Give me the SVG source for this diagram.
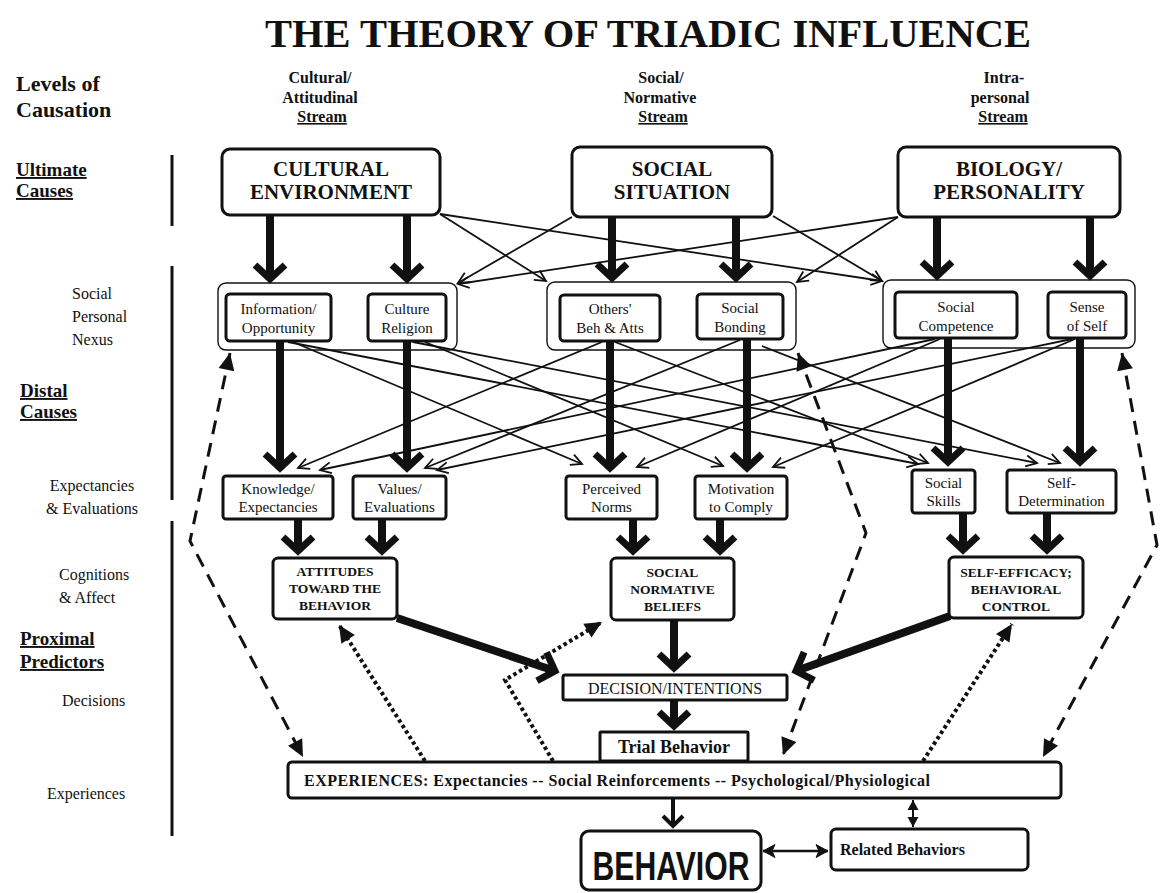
<svg xmlns="http://www.w3.org/2000/svg" width="1160" height="893" viewBox="0 0 1160 893">
<style>
text{font-family:"Liberation Serif","Times New Roman",serif;fill:#111}
.title{font-size:40.5px;font-weight:bold}
.lvl{font-size:22px;font-weight:bold}
.sec{font-size:19px;font-weight:bold;text-decoration:underline}
.sub{font-size:16px}
.stream{font-size:16px;font-weight:bold;text-anchor:middle}
.big{font-size:21px;font-weight:bold;text-anchor:middle}
.mid{font-size:15px;text-anchor:middle}
.cap{font-size:13.5px;font-weight:bold;text-anchor:middle}
.b3{fill:#fff;stroke:#111;stroke-width:3}
.b1{fill:none;stroke:#111;stroke-width:1.4}
.thick{stroke:#111;stroke-width:8;fill:none;marker-end:url(#mThick)}
.thin{stroke:#111;stroke-width:1.8;fill:none;marker-end:url(#mThin)}
.dash{stroke:#111;stroke-width:3;fill:none;stroke-dasharray:14 9;marker-start:url(#mTri);marker-end:url(#mTri);stroke-linejoin:round}
.dot{stroke:#111;stroke-width:4;fill:none;stroke-dasharray:3.5 3;marker-end:url(#mTri)}
.bar{stroke:#111;stroke-width:3}
</style>
<defs>
<marker id="mThick" markerUnits="userSpaceOnUse" viewBox="-25 -25 40 50" refX="0" refY="0" markerWidth="40" markerHeight="50" orient="auto">
<path d="M-14,-15 L0,0 L-14,15" fill="none" stroke="#111" stroke-width="7" stroke-linejoin="miter"/>
</marker>
<marker id="mMed" markerUnits="userSpaceOnUse" viewBox="-20 -20 30 40" refX="0" refY="0" markerWidth="30" markerHeight="40" orient="auto">
<path d="M-10,-10 L0,0 L-10,10" fill="none" stroke="#111" stroke-width="4"/>
</marker>
<marker id="mThin" markerUnits="userSpaceOnUse" viewBox="-15 -10 20 20" refX="0" refY="0" markerWidth="20" markerHeight="20" orient="auto-start-reverse">
<path d="M-11,-5.5 L0,0 L-11,5.5" fill="none" stroke="#111" stroke-width="1.8"/>
</marker>
<marker id="mTri" markerUnits="userSpaceOnUse" viewBox="-20 -12 24 24" refX="0" refY="0" markerWidth="24" markerHeight="24" orient="auto-start-reverse">
<path d="M0,0 L-17,-8 L-17,8 Z" fill="#111"/>
</marker>
<marker id="mDbl" markerUnits="userSpaceOnUse" viewBox="-15 -10 20 20" refX="0" refY="0" markerWidth="20" markerHeight="20" orient="auto-start-reverse">
<path d="M0,0 L-12,-6.5 L-9,0 L-12,6.5 Z" fill="#111" stroke="#111" stroke-width="1"/>
</marker>
<marker id="mSm" markerUnits="userSpaceOnUse" viewBox="-12 -8 14 16" refX="0" refY="0" markerWidth="14" markerHeight="16" orient="auto-start-reverse">
<path d="M0,0 L-10,-5.5 L-10,5.5 Z" fill="#111"/>
</marker>
</defs>

<g id="title">
<text class="title" x="648" y="47" text-anchor="middle">THE THEORY OF TRIADIC INFLUENCE</text>
</g>

<g id="levels">
<text class="lvl" x="16" y="91">Levels of</text>
<text class="lvl" x="16" y="117">Causation</text>
<text class="sec" x="16" y="176">Ultimate</text>
<text class="sec" x="16" y="197">Causes</text>
<text class="sub" x="72" y="299">Social</text>
<text class="sub" x="72" y="322">Personal</text>
<text class="sub" x="72" y="345">Nexus</text>
<text class="sec" x="20" y="397">Distal </text>
<text class="sec" x="20" y="418">Causes</text>
<text class="sub" x="92" y="491" text-anchor="middle">Expectancies</text>
<text class="sub" x="92" y="514" text-anchor="middle">&amp; Evaluations</text>
<text class="sub" x="59" y="580">Cognitions</text>
<text class="sub" x="59" y="603">&amp; Affect</text>
<text class="sec" x="20" y="645">Proximal</text>
<text class="sec" x="20" y="668">Predictors</text>
<text class="sub" x="62" y="706">Decisions</text>
<text class="sub" x="47" y="799">Experiences</text>
<line class="bar" x1="172" y1="155" x2="172" y2="226"/>
<line class="bar" x1="172" y1="266" x2="172" y2="500"/>
<line class="bar" x1="172" y1="521" x2="172" y2="836"/>
</g>

<g id="streams">
<text class="stream" x="320" y="83">Cultural/</text>
<text class="stream" x="320" y="103">Attitudinal</text>
<text class="stream" x="322" y="122" text-decoration="underline">Stream</text>
<text class="stream" x="661" y="83">Social/</text>
<text class="stream" x="660" y="103">Normative</text>
<text class="stream" x="663" y="122" text-decoration="underline">Stream</text>
<text class="stream" x="1004" y="83">Intra-</text>
<text class="stream" x="1000" y="103">personal</text>
<text class="stream" x="1003" y="122" text-decoration="underline">Stream</text>
</g>

<g id="connectors">
<line class="thin" x1="440" y1="214" x2="546" y2="281"/>
<line class="thin" x1="440" y1="214" x2="882" y2="281"/>
<line class="thin" x1="572" y1="217" x2="458" y2="283"/>
<line class="thin" x1="773" y1="216" x2="882" y2="281"/>
<line class="thin" x1="898" y1="217" x2="458" y2="284"/>
<line class="thin" x1="898" y1="217" x2="797" y2="282"/>
<line class="thin" x1="293" y1="342" x2="582" y2="464"/>
<line class="thin" x1="288" y1="342" x2="918" y2="464"/>
<line class="thin" x1="425" y1="342" x2="723" y2="466"/>
<line class="thin" x1="413" y1="342" x2="1037" y2="463"/>
<line class="thin" x1="602" y1="342" x2="298" y2="468"/>
<line class="thin" x1="615" y1="342" x2="928" y2="463"/>
<line class="thin" x1="740" y1="340" x2="425" y2="468"/>
<line class="thin" x1="762" y1="346" x2="1060" y2="463"/>
<line class="thin" x1="935" y1="339" x2="320" y2="470"/>
<line class="thin" x1="940" y1="339" x2="637" y2="467"/>
<line class="thin" x1="1072" y1="339" x2="437" y2="470"/>
<line class="thin" x1="1075" y1="339" x2="773" y2="467"/>
<line class="thick" x1="270" y1="216" x2="270" y2="279"/>
<line class="thick" x1="407" y1="216" x2="407" y2="279"/>
<line class="thick" x1="612" y1="218" x2="612" y2="278"/>
<line class="thick" x1="736" y1="218" x2="736" y2="278"/>
<line class="thick" x1="937" y1="218" x2="937" y2="276"/>
<line class="thick" x1="1090" y1="218" x2="1090" y2="276"/>
<line class="thick" x1="280" y1="342" x2="280" y2="468"/>
<line class="thick" x1="407" y1="342" x2="407" y2="468"/>
<line class="thick" x1="610" y1="342" x2="610" y2="468"/>
<line class="thick" x1="747" y1="340" x2="747" y2="468"/>
<line class="thick" x1="948" y1="339" x2="948" y2="462"/>
<line class="thick" x1="1080" y1="339" x2="1080" y2="462"/>
<line class="thick" x1="298" y1="520" x2="298" y2="551"/>
<line class="thick" x1="382" y1="520" x2="382" y2="551"/>
<line class="thick" x1="633" y1="520" x2="633" y2="551"/>
<line class="thick" x1="720" y1="520" x2="720" y2="551"/>
<line class="thick" x1="963" y1="514" x2="963" y2="550"/>
<line class="thick" x1="1047" y1="514" x2="1047" y2="550"/>
<line class="thick" x1="674" y1="621" x2="674" y2="668"/>
<line class="thick" x1="674" y1="701" x2="674" y2="726"/>
<line class="thick" x1="397" y1="618" x2="555" y2="671"/>
<line class="thick" x1="950" y1="616" x2="796" y2="671"/>
<line stroke="#111" stroke-width="4" marker-end="url(#mMed)" x1="673" y1="799" x2="673" y2="826"/>
<path class="dash" d="M230,353 L190,541 L303,757"/>
<path class="dash" d="M1122,353 L1157,545 L1043,757"/>
<path class="dash" d="M798,353 L866,533 L783,755"/>
<path class="dot" d="M425,761 L339,625"/>
<path class="dot" d="M553,761 L505,680 L602,622"/>
<path class="dot" d="M923,761 L1012,624"/>
<line stroke="#111" stroke-width="2.5" marker-start="url(#mDbl)" marker-end="url(#mDbl)" x1="763" y1="851" x2="828" y2="851"/>
<line stroke="#111" stroke-width="2" marker-start="url(#mSm)" marker-end="url(#mSm)" x1="913" y1="800" x2="913" y2="827"/>
</g>

<g id="cultural-environment">
<rect class="b3" x="222" y="149" width="218" height="66" rx="8"/>
<text class="big" x="331" y="176">CULTURAL</text>
<text class="big" x="331" y="199">ENVIRONMENT</text>
</g>
<g id="social-situation">
<rect class="b3" x="572" y="147" width="200" height="70" rx="8"/>
<text class="big" x="672" y="176">SOCIAL</text>
<text class="big" x="672" y="199">SITUATION</text>
</g>
<g id="biology-personality">
<rect class="b3" x="898" y="147" width="222" height="70" rx="8"/>
<text class="big" x="1009" y="176">BIOLOGY/</text>
<text class="big" x="1009" y="199">PERSONALITY</text>
</g>

<g id="nexus-cultural"><rect class="b1" x="218" y="283" width="239" height="67" rx="8"/></g>
<g id="nexus-social"><rect class="b1" x="547" y="282" width="249" height="68" rx="8"/></g>
<g id="nexus-personal"><rect class="b1" x="883" y="280" width="252" height="68" rx="8"/></g>

<g id="information-opportunity">
<rect class="b3" x="226" y="294" width="105" height="47" rx="4"/>
<text class="mid" x="278.5" y="314">Information/</text>
<text class="mid" x="278.5" y="333">Opportunity</text>
</g>
<g id="culture-religion">
<rect class="b3" x="368" y="294" width="78" height="47" rx="4"/>
<text class="mid" x="407" y="314">Culture</text>
<text class="mid" x="407" y="333">Religion</text>
</g>
<g id="others-beh-atts">
<rect class="b3" x="560" y="295" width="100" height="46" rx="4"/>
<text class="mid" x="610" y="314">Others'</text>
<text class="mid" x="610" y="333">Beh &amp; Atts</text>
</g>
<g id="social-bonding">
<rect class="b3" x="697" y="294" width="86" height="45" rx="4"/>
<text class="mid" x="740" y="313">Social</text>
<text class="mid" x="740" y="332">Bonding</text>
</g>
<g id="social-competence">
<rect class="b3" x="895" y="292" width="122" height="46" rx="4"/>
<text class="mid" x="956" y="312">Social</text>
<text class="mid" x="956" y="331">Competence</text>
</g>
<g id="sense-of-self">
<rect class="b3" x="1048" y="292" width="78" height="46" rx="4"/>
<text class="mid" x="1087" y="312">Sense</text>
<text class="mid" x="1087" y="331">of Self</text>
</g>

<g id="knowledge-expectancies">
<rect class="b3" x="223" y="476" width="110" height="43" rx="3"/>
<text class="mid" x="278" y="494">Knowledge/</text>
<text class="mid" x="278" y="512">Expectancies</text>
</g>
<g id="values-evaluations">
<rect class="b3" x="353" y="476" width="93" height="43" rx="3"/>
<text class="mid" x="399.5" y="494">Values/</text>
<text class="mid" x="399.5" y="512">Evaluations</text>
</g>
<g id="perceived-norms">
<rect class="b3" x="566" y="476" width="91" height="43" rx="3"/>
<text class="mid" x="611.5" y="494">Perceived</text>
<text class="mid" x="611.5" y="512">Norms</text>
</g>
<g id="motivation-to-comply">
<rect class="b3" x="695" y="476" width="92" height="43" rx="3"/>
<text class="mid" x="741" y="494">Motivation</text>
<text class="mid" x="741" y="512">to Comply</text>
</g>
<g id="social-skills">
<rect class="b3" x="912" y="470" width="63" height="43" rx="3"/>
<text class="mid" x="943.5" y="488">Social</text>
<text class="mid" x="943.5" y="506">Skills</text>
</g>
<g id="self-determination">
<rect class="b3" x="1007" y="470" width="109" height="43" rx="3"/>
<text class="mid" x="1061.5" y="488">Self-</text>
<text class="mid" x="1061.5" y="506">Determination</text>
</g>

<g id="attitudes">
<rect class="b3" x="273" y="558" width="124" height="61" rx="5"/>
<text class="cap" x="335" y="576">ATTITUDES</text>
<text class="cap" x="335" y="593">TOWARD THE</text>
<text class="cap" x="335" y="610">BEHAVIOR</text>
</g>
<g id="social-normative-beliefs">
<rect class="b3" x="611" y="558" width="123" height="62" rx="5"/>
<text class="cap" x="672.5" y="577">SOCIAL</text>
<text class="cap" x="672.5" y="594">NORMATIVE</text>
<text class="cap" x="672.5" y="611">BELIEFS</text>
</g>
<g id="self-efficacy">
<rect class="b3" x="949" y="557" width="134" height="61" rx="5"/>
<text class="cap" x="1016" y="577">SELF-EFFICACY;</text>
<text class="cap" x="1016" y="594">BEHAVIORAL</text>
<text class="cap" x="1016" y="611">CONTROL</text>
</g>

<g id="decision-intentions">
<rect class="b3" x="563" y="675" width="224" height="25" rx="2"/>
<text x="675" y="694" font-size="16" text-anchor="middle">DECISION/INTENTIONS</text>
</g>
<g id="trial-behavior">
<rect class="b3" x="600" y="732" width="148" height="29" rx="1"/>
<text x="674" y="753" font-size="18" font-weight="bold" text-anchor="middle">Trial Behavior</text>
</g>
<g id="experiences">
<rect class="b3" x="288" y="762" width="773" height="36" rx="4"/>
<text x="304" y="786" font-size="16" font-weight="bold" textLength="626" lengthAdjust="spacing">EXPERIENCES: Expectancies -- Social Reinforcements -- Psychological/Physiological</text>
</g>
<g id="behavior">
<rect class="b3" x="581" y="831" width="180" height="59" rx="8"/>
<text x="671" y="880" font-size="41" font-weight="bold" text-anchor="middle" textLength="157" lengthAdjust="spacingAndGlyphs" style="font-family:'Liberation Sans',Arial,sans-serif">BEHAVIOR</text>
</g>
<g id="related-behaviors">
<rect class="b3" x="831" y="829" width="197" height="41" rx="5"/>
<text x="840" y="855" font-size="16" font-weight="bold">Related Behaviors</text>
</g>
</svg>
